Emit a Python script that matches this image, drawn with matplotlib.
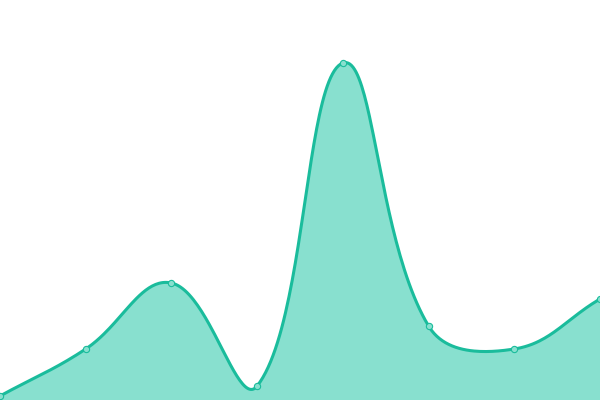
import numpy as np
import matplotlib
matplotlib.use('Agg')
import matplotlib.pyplot as plt

# data (value = height above the bottom edge)
labels = ['1', '2', '3', '4', '5', '6', '7', '8']
values = [4, 51, 117, 14, 337, 74, 51, 101]

line_color = '#1abc9c'
fill_color = '#88e0cf'
tension = 0.4


def spline(xs, ys, t=0.4, steps=50):
    # bezier smoothing, control points scaled by the neighbour distances
    pts = np.column_stack([xs, ys]).astype(float)
    n = len(pts)
    c_prev = np.zeros_like(pts)
    c_next = np.zeros_like(pts)
    for i in range(n):
        p0 = pts[max(i - 1, 0)]
        p1 = pts[i]
        p2 = pts[min(i + 1, n - 1)]
        d01 = np.hypot(*(p1 - p0))
        d12 = np.hypot(*(p2 - p1))
        tot = d01 + d12
        fa = t * d01 / tot if tot else 0
        fb = t * d12 / tot if tot else 0
        c_prev[i] = p1 - fa * (p2 - p0)
        c_next[i] = p1 + fb * (p2 - p0)
    out = []
    s = np.linspace(0, 1, steps)[:, None]
    for i in range(n - 1):
        a, b, c, d = pts[i], c_next[i], c_prev[i + 1], pts[i + 1]
        seg = (1 - s)**3 * a + 3 * (1 - s)**2 * s * b + 3 * (1 - s) * s**2 * c + s**3 * d
        out.append(seg)
    out = np.vstack(out)
    return out[:, 0], out[:, 1]


# x in pixel units so the spline distances match the screen
x = np.arange(len(values)) * 600 / (len(values) - 1)
sx, sy = spline(x, values, tension)

fig = plt.figure(figsize=(6, 4), dpi=100)
ax = fig.add_axes([0, 0, 1, 1])
ax.fill_between(sx, sy, 0, color=fill_color, linewidth=0)
ax.plot(sx, sy, color=line_color, linewidth=2.2, solid_capstyle='round')
ax.plot(x, values, 'o', markersize=4.5, markerfacecolor=fill_color,
        markeredgecolor=line_color, markeredgewidth=0.8, clip_on=False)
ax.set_xlim(0, 600)
ax.set_ylim(0, 400)
ax.axis('off')
plt.savefig('out.png', dpi=100)
plt.close()
